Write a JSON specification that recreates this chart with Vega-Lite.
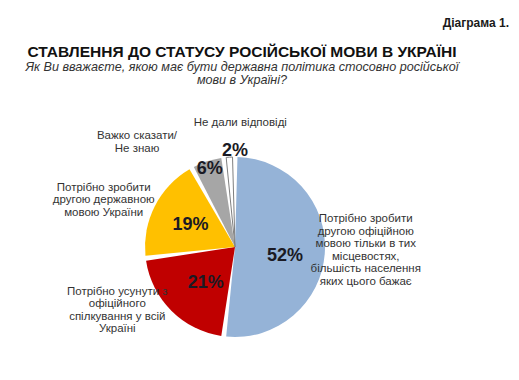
{
  "$schema": "https://vega.github.io/schema/vega-lite/v6.json",
  "padding": {"left": 0, "top": 16, "right": 0, "bottom": 0},
  "background": "white",
  "title": {"text": "Діаграма 1.", "anchor": "end", "dx": 39, "font": "Liberation Sans", "fontSize": 12, "fontWeight": "bold", "color": "#1a1a1a", "offset": 15},
  "config": {"view": {"stroke": null}, "font": "Liberation Sans"},
  "datasets": {
    "d": [
      {"k": "a", "ord": 1, "value": 52, "pct": "52%", "label": "Потрібно зробити\nдругою офіційною\nмовою тільки в тих\nмісцевостях,\nбільшість населення\nяких цього бажає"},
      {"k": "b", "ord": 2, "value": 21, "pct": "21%", "label": "Потрібно усунути з\nофіційного\nспілкування у всій\nУкраїні"},
      {"k": "c", "ord": 3, "value": 19, "pct": "19%", "label": "Потрібно зробити\nдругою державною\nмовою України"},
      {"k": "d", "ord": 4, "value": 6, "pct": "6%", "label": "Важко сказати/\nНе знаю"},
      {"k": "e", "ord": 5, "value": 2, "pct": "2%", "label": "Не дали відповіді"}
    ]
  },
  "vconcat": [
    {
      "width": 470,
      "height": 266,
      "title": {
        "text": "СТАВЛЕННЯ ДО СТАТУСУ РОСІЙСЬКОЇ МОВИ В УКРАЇНІ",
        "subtitle": ["Як Ви вважаєте, якою має бути державна політика стосовно російської", "мови в Україні?"],
        "anchor": "middle",
        "fontSize": 15.5,
        "fontWeight": "bold",
        "color": "#111111",
        "subtitleFontSize": 12.6,
        "subtitleFontStyle": "italic",
        "subtitleColor": "#333333",
        "subtitlePadding": 0.5,
        "subtitleLineHeight": 13.5,
        "offset": 27,
        "dx": 7
      },
      "data": {"name": "d"},
      "layer": [
        {
          "mark": {"type": "arc", "outerRadius": 90, "padAngle": 0.055, "stroke": "#7f7f7f", "clip": true},
          "encoding": {
            "theta": {"field": "value", "type": "quantitative", "stack": true},
            "order": {"field": "ord", "type": "quantitative"},
            "color": {"field": "k", "type": "nominal", "scale": {"domain": ["a", "b", "c", "d", "e"], "range": ["#95B3D7", "#C00000", "#FFC000", "#A6A6A6", "#FFFFFF"]}, "legend": null},
            "strokeWidth": {"condition": {"test": "datum.k == 'e'", "value": 1}, "value": 0}
          }
        },
        {
          "mark": {"type": "text", "radius": 50, "dy": 6, "fontSize": 18, "fontWeight": "bold", "color": "#1a1a24", "align": "center", "baseline": "middle", "clip": true},
          "encoding": {
            "theta": {"field": "value", "type": "quantitative", "stack": true},
            "order": {"field": "ord", "type": "quantitative"},
            "text": {"condition": {"test": "datum.k == 'a'", "field": "pct"}, "value": ""}
          }
        },
        {
          "mark": {"type": "text", "radius": 50, "dx": 6, "dy": 1, "fontSize": 18, "fontWeight": "bold", "color": "#1a1a24", "align": "center", "baseline": "middle", "clip": true},
          "encoding": {
            "theta": {"field": "value", "type": "quantitative", "stack": true},
            "order": {"field": "ord", "type": "quantitative"},
            "text": {"condition": {"test": "datum.k == 'b'", "field": "pct"}, "value": ""}
          }
        },
        {
          "mark": {"type": "text", "radius": 50, "dy": 1, "fontSize": 18, "fontWeight": "bold", "color": "#1a1a24", "align": "center", "baseline": "middle", "clip": true},
          "encoding": {
            "theta": {"field": "value", "type": "quantitative", "stack": true},
            "order": {"field": "ord", "type": "quantitative"},
            "text": {"condition": {"test": "datum.k == 'c'", "field": "pct"}, "value": ""}
          }
        },
        {
          "mark": {"type": "text", "radius": 82, "fontSize": 18, "fontWeight": "bold", "color": "#1a1a24", "align": "center", "baseline": "middle", "clip": true},
          "encoding": {
            "theta": {"field": "value", "type": "quantitative", "stack": true},
            "order": {"field": "ord", "type": "quantitative"},
            "text": {"condition": {"test": "datum.k == 'd'", "field": "pct"}, "value": ""}
          }
        },
        {
          "mark": {"type": "text", "radius": 96, "dx": 6, "fontSize": 18, "fontWeight": "bold", "color": "#1a1a24", "align": "center", "baseline": "middle", "clip": true},
          "encoding": {
            "theta": {"field": "value", "type": "quantitative", "stack": true},
            "order": {"field": "ord", "type": "quantitative"},
            "text": {"condition": {"test": "datum.k == 'e'", "field": "pct"}, "value": ""}
          }
        },
        {
          "mark": {"type": "text", "radius": 131, "dy": -36, "lineBreak": "\n", "lineHeight": 12.5, "fontSize": 11.5, "color": "#333333", "align": "center", "baseline": "middle", "clip": true},
          "encoding": {
            "theta": {"field": "value", "type": "quantitative", "stack": true},
            "order": {"field": "ord", "type": "quantitative"},
            "text": {"condition": {"test": "datum.k == 'a'", "field": "label"}, "value": ""}
          }
        },
        {
          "mark": {"type": "text", "radius": 100, "dx": -47, "dy": -26, "lineBreak": "\n", "lineHeight": 12.5, "fontSize": 11.5, "color": "#333333", "align": "center", "baseline": "middle", "clip": true},
          "encoding": {
            "theta": {"field": "value", "type": "quantitative", "stack": true},
            "order": {"field": "ord", "type": "quantitative"},
            "text": {"condition": {"test": "datum.k == 'b'", "field": "label"}, "value": ""}
          }
        },
        {
          "mark": {"type": "text", "radius": 135, "dx": -11, "dy": 2, "lineBreak": "\n", "lineHeight": 12.5, "fontSize": 11.5, "color": "#333333", "align": "center", "baseline": "middle", "clip": true},
          "encoding": {
            "theta": {"field": "value", "type": "quantitative", "stack": true},
            "order": {"field": "ord", "type": "quantitative"},
            "text": {"condition": {"test": "datum.k == 'c'", "field": "label"}, "value": ""}
          }
        },
        {
          "mark": {"type": "text", "radius": 110, "dx": -64, "dy": -6, "lineBreak": "\n", "lineHeight": 12.5, "fontSize": 11.5, "color": "#333333", "align": "center", "baseline": "middle", "clip": true},
          "encoding": {
            "theta": {"field": "value", "type": "quantitative", "stack": true},
            "order": {"field": "ord", "type": "quantitative"},
            "text": {"condition": {"test": "datum.k == 'd'", "field": "label"}, "value": ""}
          }
        },
        {
          "mark": {"type": "text", "radius": 123, "dx": 13, "dy": -1, "lineBreak": "\n", "lineHeight": 12.5, "fontSize": 11.5, "color": "#333333", "align": "center", "baseline": "middle", "clip": true},
          "encoding": {
            "theta": {"field": "value", "type": "quantitative", "stack": true},
            "order": {"field": "ord", "type": "quantitative"},
            "text": {"condition": {"test": "datum.k == 'e'", "field": "label"}, "value": ""}
          }
        }
      ]
    }
  ]
}
